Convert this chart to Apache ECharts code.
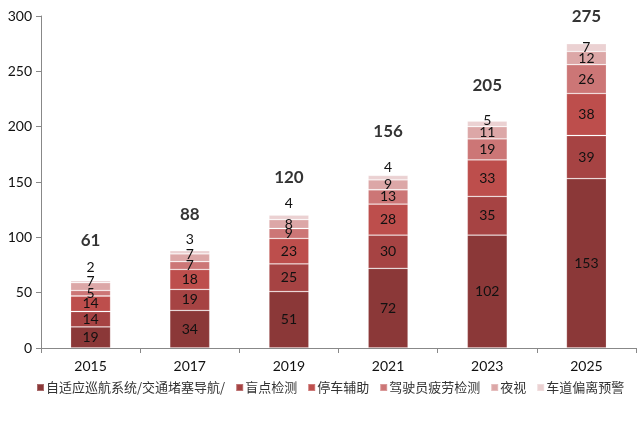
<!DOCTYPE html>
<html><head><meta charset="utf-8">
<script src="https://cdn.jsdelivr.net/npm/echarts@6/dist/echarts.min.js"></script>
<style>html,body{margin:0;padding:0;background:#fff}#c{width:639px;height:424px}</style>
</head><body><div id="c"></div>
<script>
const categories = ['2015','2017','2019','2021','2023','2025'];
const seriesNames = ['自适应巡航系统/交通堵塞导航/','盲点检测','停车辅助','驾驶员疲劳检测','夜视','车道偏离预警'];
const acc = [19,34,51,72,102,153];
const blind = [14,19,25,30,35,39];
const parking = [14,18,23,28,33,38];
const fatigue = [5,7,9,13,19,26];
const night = [7,7,8,9,11,12];
const lane = [2,3,4,4,5,7];
const totals = [61,88,120,156,205,275];
const yTicks = [0,50,100,150,200,250,300];

const colors = ['#8B3838','#A64343','#BD4E4C','#CC7676','#DCA7A7','#EBD1D2'];
const values = [acc, blind, parking, fatigue, night, lane];
// label offsets (styling only)
const laneOff = [-14,-13,-14,-10,-3,0];
const nightOff = [-5,-3,0,0,0,0];
const totalOff = [-40,-36,-38,-44,-36,-27];

const cjk = '"Noto Sans CJK SC", sans-serif';
const num = 'Lato, "Open Sans", sans-serif';
const series = values.map((v, i) => ({
  name: seriesNames[i],
  type: 'bar',
  stack: 'total',
  barWidth: 40,
  itemStyle: { color: colors[i], borderColor: 'rgba(255,255,255,0.25)', borderWidth: 0.8 },
  data: v.map((x, j) => {
    const d = { value: x };
    if (i === 5) d.label = { offset: [0, laneOff[j]] };
    if (i === 4) d.label = { offset: [0, nightOff[j]] };
    return d;
  }),
  label: { show: true, position: 'inside', color: '#111', fontSize: 14, fontFamily: num }
}));
series.push({
  name: 'total',
  type: 'scatter',
  symbolSize: 0,
  silent: true,
  data: totals.map((t, j) => ({ value: t, label: { offset: [0, totalOff[j]] } })),
  label: { show: true, position: 'inside', color: '#000', fontSize: 17, fontWeight: 'bold', fontFamily: num, formatter: p => p.value }
});

const chart = echarts.init(document.getElementById('c'));
chart.setOption({
  animation: false,
  grid: { left: 41, right: 3, top: 16, bottom: 76 },
  legend: {
    data: seriesNames,
    top: 381, left: 36, width: 620, padding: 0,
    itemWidth: 7, itemHeight: 7, itemGap: 10,
    icon: 'rect',
    textStyle: { fontSize: 13, color: '#333', fontFamily: cjk, padding: [0,0,0,-3] }
  },
  xAxis: {
    type: 'category', data: categories,
    axisLine: { lineStyle: { color: '#888' } },
    axisTick: { show: true, length: 5, lineStyle: { color: '#888' } },
    axisLabel: { color: '#111', fontSize: 14, margin: 11, fontFamily: num }
  },
  yAxis: {
    type: 'value', min: yTicks[0], max: yTicks[yTicks.length-1], interval: 50,
    axisLine: { show: true, lineStyle: { color: '#888' } },
    axisTick: { show: true, length: 5, lineStyle: { color: '#888' } },
    splitLine: { show: false },
    axisLabel: { color: '#111', fontSize: 14, margin: 9, fontFamily: num }
  },
  series
});
</script></body></html>
